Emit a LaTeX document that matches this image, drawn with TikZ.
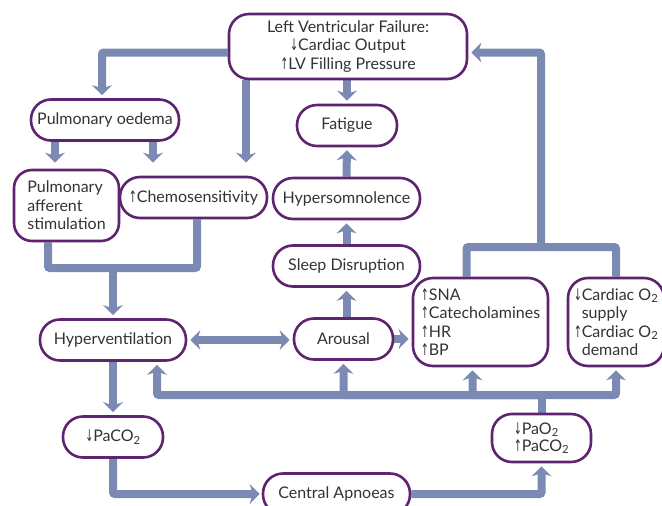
\documentclass[tikz,border=0pt]{standalone}
\usepackage{fontspec}
\setmainfont{Lato}
\newfontfamily\arrfont{DejaVu Sans}
\usetikzlibrary{arrows.meta}
\definecolor{boxc}{HTML}{5E2470}
\definecolor{arrc}{HTML}{7B8AB3}
\definecolor{txt}{HTML}{333333}
\newcommand{\UpA}{{\arrfont\scalebox{0.6}[1]{↑}}}
\newcommand{\DnA}{{\arrfont\scalebox{0.6}[1]{↓}}}
\pgfdeclarelayer{bg}
\pgfsetlayers{bg,main}
\tikzset{
  box/.style={draw=boxc, line width=2.6pt, fill=white, rounded corners=20pt, text=txt,
    inner sep=2pt, font=\fontsize{16}{18.5}\selectfont},
  pill/.style={box, minimum height=41pt},
  line/.style={draw=arrc, line width=8pt, rounded corners=2pt},
  conn/.style={line, -{Stealth[length=10pt,width=20pt,inset=3pt]}, shorten >=3pt},
  conn2/.style={line, {Stealth[length=10pt,width=20pt,inset=3pt]}-{Stealth[length=10pt,width=20pt,inset=3pt]}, shorten >=3pt, shorten <=3pt}
}
\begin{document}
\begin{tikzpicture}[x=1pt,y=-1pt]
\useasboundingbox (0,0) rectangle (662,506);
\node[box, minimum width=238pt, minimum height=65pt, align=center] (lvf) at (348,46.5) {Left Ventricular Failure:\\\DnA Cardiac Output\\\UpA LV Filling Pressure};
\node[pill, minimum width=148pt] (po) at (105,120) {Pulmonary oedema};
\node[box, minimum width=105pt, minimum height=71pt, align=left, rounded corners=18pt] (paf) at (66.5,205.5) {Pulmonary\\afferent\\stimulation};
\node[pill, minimum width=147pt] (chemo) at (193.5,197.5) {\UpA Chemosensitivity};
\node[pill, minimum width=100pt] (fat) at (347,125.5) {Fatigue};
\node[pill, minimum width=147pt] (hyps) at (346.5,198.5) {Hypersomnolence};
\node[pill, minimum width=147pt] (sleep) at (346.5,266) {Sleep Disruption};
\node[pill, minimum width=99pt] (arousal) at (343.5,339) {Arousal};
\node[box, minimum width=135pt, minimum height=88pt, align=left] (sna) at (480.5,322) {\UpA SNA\\\UpA Catecholamines\\\UpA HR\\\UpA BP};
\node[box, minimum width=96pt, minimum height=88pt, align=left] (o2) at (616,322) {\DnA Cardiac O\textsubscript{2}\\\phantom{\DnA}supply\\\UpA Cardiac O\textsubscript{2}\\\phantom{\UpA}demand};
\node[pill, minimum width=146pt] (hv) at (113,340) {Hyperventilation};
\node[pill, minimum width=100pt] (pc) at (113,437) {\DnA PaCO\textsubscript{2}};
\node[pill, minimum width=147pt] (ca) at (336.5,494) {Central Apnoeas};
\node[box, minimum width=99pt, minimum height=48pt, align=left, font=\fontsize{16}{17}\selectfont] (po2) at (541.5,438) {\DnA PaO\textsubscript{2}\\\UpA PaCO\textsubscript{2}};

\coordinate (j1) at (113,268);
\coordinate (b) at (541.5,395);
\coordinate (t) at (541,247);
\begin{pgfonlayer}{bg}
\draw[conn] ([yshift=-6pt]lvf.west) -| ([xshift=-3pt]po.north);
\draw[conn] (lvf.south -| 246,0) -- ([yshift=10pt]chemo.north -| 246,0);
\draw[conn] (po.south -| 55,0) -- ([yshift=3pt]paf.north -| 55,0);
\draw[conn] (po.south -| 153,0) -- ([yshift=10pt]chemo.north -| 153,0);
\draw[conn] (lvf.south -| fat.north) -- (fat.north);
\draw[conn] (hyps.north) -- (fat.south);
\draw[conn] (sleep.north) -- (hyps.south);
\draw[conn] (arousal.north -| sleep.south) -- (sleep.south);
\draw[line] (paf.south -| 48,0) |- (j1) -| (chemo.south -| 197,0);
\draw[conn] (j1) -- (hv.north);
\draw[conn2] (hv.east) -- (hv.east -| arousal.west);
\draw[conn] (arousal.east) -- (arousal.east -| sna.west);
\draw[conn] (hv.south) -- (pc.north);
\draw[conn, shorten >=2pt] (pc.south) |- (ca.west);
\draw[conn] (ca.east) -| (po2.south);
\draw[line] (po2.north) -- (b);
\draw[conn] (b) -| ([xshift=44pt]hv.south);
\draw[conn] (b) -| (arousal.south);
\draw[conn] (b) -| ([xshift=-8pt]sna.south);
\draw[conn] (b) -| (o2.south);
\draw[line] ([xshift=-14pt]sna.north) |- (t) -| (o2.north);
\draw[conn] (t) |- ([yshift=-6pt]lvf.east);
\end{pgfonlayer}
\end{tikzpicture}
\end{document}
